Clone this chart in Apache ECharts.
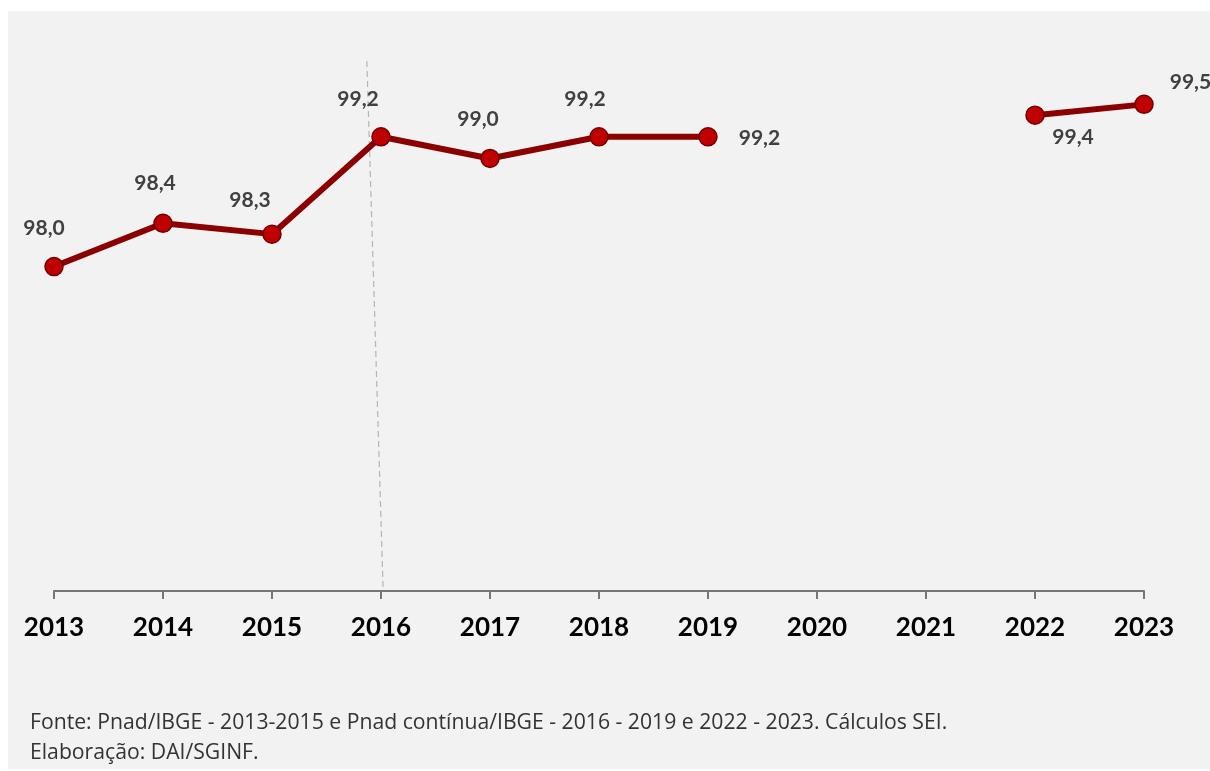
<!DOCTYPE html>
<html>
<head>
<meta charset="utf-8">
<script src="https://cdn.jsdelivr.net/npm/echarts@6/dist/echarts.min.js"></script>
<style>
  html, body { margin: 0; padding: 0; background: #ffffff; }
  #chart { width: 1210px; height: 771px; }
</style>
</head>
<body>
<div id="chart"></div>
<script>
// Years on the horizontal axis and the rate for each year (null = no survey)
const years = [2013, 2014, 2015, 2016, 2017, 2018, 2019, 2020, 2021, 2022, 2023];
const rates = [98.0, 98.4, 98.3, 99.2, 99.0, 99.2, 99.2, null, null, 99.4, 99.5];

// Dashed separator between the two survey series (Pnad / Pnad contínua)
const separatorTop = [2015.87, 99.9];
const separatorBottom = [2016.02, 95.0];

const footerLines = [
  'Fonte: Pnad/IBGE - 2013-2015 e Pnad contínua/IBGE - 2016 - 2019 e 2022 - 2023. Cálculos SEI.',
  'Elaboração: DAI/SGINF.'
];

// Where each value label sits relative to its point
const labelPlacement = [
  { position: 'top', offset: [-10, -13] },
  { position: 'top', offset: [-8, -15] },
  { position: 'top', offset: [-22, -9] },
  { position: 'top', offset: [-23, -12] },
  { position: 'top', offset: [-12, -14] },
  { position: 'top', offset: [-14, -12] },
  { position: 'right', offset: [16, 1] },
  null, null,
  { position: 'bottom', offset: [38, -3] },
  { position: 'right', offset: [11, -22] }
];

const fmt = v => v.toFixed(1).replace('.', ',');

const seriesData = years.map((y, i) => {
  if (rates[i] === null) return [y, '-'];
  const p = labelPlacement[i];
  return {
    value: [y, rates[i]],
    label: { position: p.position, offset: p.offset }
  };
});

const chart = echarts.init(document.getElementById('chart'), null, { renderer: 'canvas' });

chart.setOption({
  backgroundColor: '#ffffff',
  animation: false,
  graphic: [
    { type: 'rect', left: 8, top: 11, shape: { width: 1202, height: 758 }, style: { fill: '#f2f2f2' }, z: -10 },
    {
      type: 'text', left: 30, top: 708, z: 10,
      style: { text: footerLines.join('\n'), fill: '#333333', font: '21.2px "Open Sans", sans-serif', lineHeight: 30 }
    }
  ],
  grid: { left: 54, right: 66, top: 50.3, bottom: 180 },
  xAxis: {
    type: 'value',
    min: 2013, max: 2023, interval: 1,
    splitLine: { show: false },
    axisLine: { show: true, lineStyle: { color: '#767676', width: 2 } },
    axisTick: { show: true, inside: false, length: 8, lineStyle: { color: '#767676', width: 2 } },
    axisLabel: {
      color: '#000000', fontWeight: 'bold', fontSize: 26,
      fontFamily: 'Lato, sans-serif', margin: 24,
      formatter: v => String(v)
    }
  },
  yAxis: {
    type: 'value', min: 95, max: 100,
    show: false, splitLine: { show: false }
  },
  series: [{
    type: 'line',
    data: seriesData,
    connectNulls: false,
    symbol: 'circle',
    symbolSize: 18,
    lineStyle: { color: '#8b0000', width: 6 },
    itemStyle: { color: '#c00000', borderColor: '#700000', borderWidth: 1.5 },
    label: {
      show: true,
      color: '#404040', fontWeight: 'bold', fontSize: 21,
      fontFamily: 'Lato, sans-serif',
      formatter: p => fmt(p.value[1])
    },
    markLine: {
      silent: true,
      symbol: 'none',
      label: { show: false },
      lineStyle: { color: '#b4b4b4', type: [6, 4], width: 1.2 },
      data: [[
        { coord: separatorTop },
        { coord: separatorBottom }
      ]],
      z: 1
    },
    z: 3
  }]
});
</script>
</body>
</html>
